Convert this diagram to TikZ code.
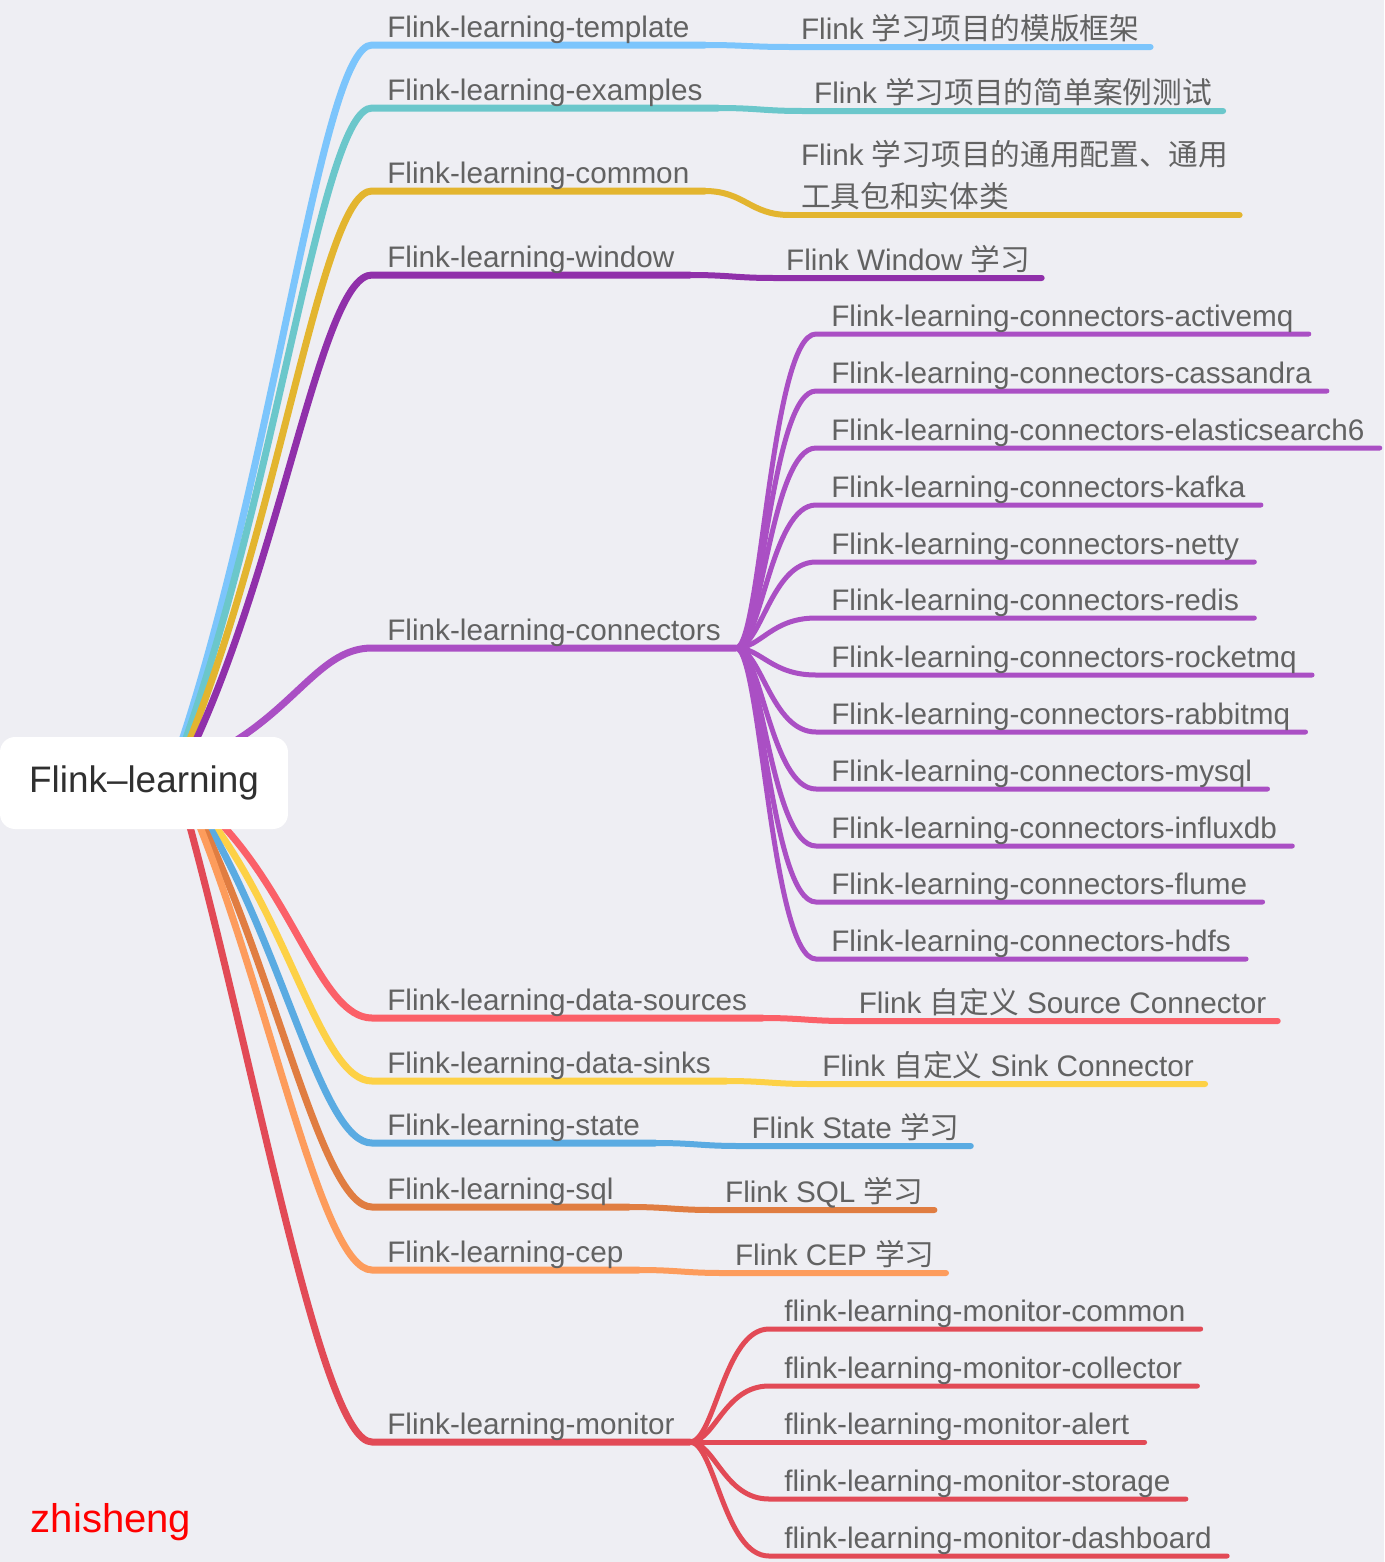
\documentclass[tikz,border=0pt]{standalone}
\usepackage{fontspec}
\setmainfont{Liberation Sans}
\newfontfamily\cjk{Noto Sans CJK SC}
\usepackage{xcolor}
\usepackage{tikz}
\usetikzlibrary{positioning,backgrounds}

\definecolor{bgcol}{HTML}{EEEEF3}
\definecolor{txtgray}{HTML}{626262}
\definecolor{rootgray}{HTML}{303030}
\definecolor{cTpl}{HTML}{7CC5FC}
\definecolor{cEx}{HTML}{6BC7CB}
\definecolor{cCom}{HTML}{E3B52F}
\definecolor{cWin}{HTML}{9030AA}
\definecolor{cCon}{HTML}{AA4FC4}
\definecolor{cSrc}{HTML}{FB6068}
\definecolor{cSnk}{HTML}{FDD146}
\definecolor{cSt}{HTML}{5AABE2}
\definecolor{cSql}{HTML}{E07D41}
\definecolor{cCep}{HTML}{FD9C5C}
\definecolor{cMon}{HTML}{E24A56}

\tikzset{
  rootbox/.style={rectangle, rounded corners=0.3cm, fill=white, minimum width=5.76cm, minimum height=1.84cm, text=rootgray, font=\fontsize{21pt}{25pt}\selectfont},
  topic/.style={anchor=south west, inner xsep=0.3cm, inner ysep=0pt, text depth=0.14cm, text=txtgray, font=\fontsize{16.9pt}{23.9pt}\selectfont},
  leaf/.style={topic, inner xsep=0.22cm, align=left},
  branch/.style={line width=0.14cm, line cap=round},
  leafline/.style={line width=0.12cm, line cap=round},
  twig/.style={line width=0.1cm, line cap=round}
}

\begin{document}
\begin{tikzpicture}[x=0.02cm, y=-0.02cm]
    \useasboundingbox (0,0) rectangle (1384,1562);
    % 中心
    \node [rootbox] (root) at (144,783) {Flink–learning};
    \node [font=\fontsize{22.8pt}{26pt}\selectfont, text=red] (sign) at (111,1522) {zhisheng};

    % 第一階層
    \node [topic] (tpl) at (372,45) {Flink-learning-template};
    \node [topic] (ex) at (372,108) {Flink-learning-examples};
    \node [topic] (com) at (372,191) {Flink-learning-common};
    \node [topic] (win) at (372,275) {Flink-learning-window};
    \node [topic] (con) at (372,648) {Flink-learning-connectors};
    \node [topic] (src) at (372,1018) {Flink-learning-data-sources};
    \node [topic] (snk) at (372,1081) {Flink-learning-data-sinks};
    \node [topic] (st) at (372,1143) {Flink-learning-state};
    \node [topic] (sql) at (372,1207) {Flink-learning-sql};
    \node [topic] (cep) at (372,1270) {Flink-learning-cep};
    \node [topic] (mon) at (372,1442) {Flink-learning-monitor};

    % 説明
    \node [right=1.7cm of tpl.south east, leaf, yshift=-0.04cm] (tplLeaf) {Flink {\cjk 学习项目的模版框架}};
    \node [right=1.7cm of ex.south east, leaf, yshift=-0.06cm] (exLeaf) {Flink {\cjk 学习项目的简单案例测试}};
    \node [right=1.7cm of com.south east, leaf, yshift=-0.48cm] (comLeaf) {Flink {\cjk 学习项目的通用配置、通用}\\{\cjk 工具包和实体类}};
    \node [right=1.7cm of win.south east, leaf, yshift=-0.06cm] (winLeaf) {Flink Window {\cjk 学习}};
    \node [right=1.7cm of src.south east, leaf, yshift=-0.06cm] (srcLeaf) {Flink {\cjk 自定义} Source Connector};
    \node [right=1.7cm of snk.south east, leaf, yshift=-0.06cm] (snkLeaf) {Flink {\cjk 自定义} Sink Connector};
    \node [right=1.7cm of st.south east, leaf, yshift=-0.06cm] (stLeaf) {Flink State {\cjk 学习}};
    \node [right=1.7cm of sql.south east, leaf, yshift=-0.06cm] (sqlLeaf) {Flink SQL {\cjk 学习}};
    \node [right=1.7cm of cep.south east, leaf, yshift=-0.06cm] (cepLeaf) {Flink CEP {\cjk 学习}};

    % connectors
    \node [topic] (conAmq) at (816,334) {Flink-learning-connectors-activemq};
    \node [topic] (conCas) at (816,391) {Flink-learning-connectors-cassandra};
    \node [topic] (conEs) at (816,448) {Flink-learning-connectors-elasticsearch6};
    \node [topic] (conKfk) at (816,505) {Flink-learning-connectors-kafka};
    \node [topic] (conNet) at (816,562) {Flink-learning-connectors-netty};
    \node [topic] (conRds) at (816,618) {Flink-learning-connectors-redis};
    \node [topic] (conRkt) at (816,675) {Flink-learning-connectors-rocketmq};
    \node [topic] (conRmq) at (816,732) {Flink-learning-connectors-rabbitmq};
    \node [topic] (conSql) at (816,789) {Flink-learning-connectors-mysql};
    \node [topic] (conIfx) at (816,846) {Flink-learning-connectors-influxdb};
    \node [topic] (conFlm) at (816,902) {Flink-learning-connectors-flume};
    \node [topic] (conHdf) at (816,959) {Flink-learning-connectors-hdfs};

    % monitor
    \node [topic] (monCom) at (769,1329) {flink-learning-monitor-common};
    \node [topic] (monCol) at (769,1386) {flink-learning-monitor-collector};
    \node [topic] (monAlt) at (769,1442) {flink-learning-monitor-alert};
    \node [topic] (monSto) at (769,1499) {flink-learning-monitor-storage};
    \node [topic] (monDsh) at (769,1556) {flink-learning-monitor-dashboard};

    \begin{scope}[on background layer]
    \fill [bgcol] (0,0) rectangle (1384,1562);
    % 枝
    \draw [branch, cTpl] (root.north) ++(36,10) .. controls +(96,-290) and +(-50,0) .. (tpl.south west) -- (tpl.south east);
    \draw [branch, cEx] (root.north) ++(39,10) .. controls +(95,-263) and +(-50,0) .. (ex.south west) -- (ex.south east);
    \draw [branch, cCom] (root.north) ++(43,10) .. controls +(93,-228) and +(-50,0) .. (com.south west) -- (com.south east);
    \draw [branch, cWin] (root.north) ++(49,10) .. controls +(90,-193) and +(-50,0) .. (win.south west) -- (win.south east);
    \draw [branch, cCon] (root.north) ++(82,10) .. controls +(72,-42) and +(-50,0) .. (con.south west) -- (con.south east);
    \draw [branch, cSrc] (root.south) ++(73,-10) .. controls +(78,80) and +(-50,0) .. (src.south west) -- (src.south east);
    \draw [branch, cSnk] (root.south) ++(66,-10) .. controls +(81,107) and +(-50,0) .. (snk.south west) -- (snk.south east);
    \draw [branch, cSt] (root.south) ++(61,-10) .. controls +(80,133) and +(-50,0) .. (st.south west) -- (st.south east);
    \draw [branch, cSql] (root.south) ++(56,-10) .. controls +(78,160) and +(-50,0) .. (sql.south west) -- (sql.south east);
    \draw [branch, cCep] (root.south) ++(53,-10) .. controls +(75,186) and +(-50,0) .. (cep.south west) -- (cep.south east);
    \draw [branch, cMon] (root.south) ++(44,-10) .. controls +(70,258) and +(-50,0) .. (mon.south west) -- (mon.south east);

    % 説明への線
    \draw [leafline, cTpl] (tpl.south east) .. controls +(40,0) and +(-40,0) .. (tplLeaf.south west) -- (tplLeaf.south east);
    \draw [leafline, cEx] (ex.south east) .. controls +(40,0) and +(-40,0) .. (exLeaf.south west) -- (exLeaf.south east);
    \draw [leafline, cCom] (com.south east) .. controls +(40,0) and +(-40,0) .. (comLeaf.south west) -- (comLeaf.south east);
    \draw [leafline, cWin] (win.south east) .. controls +(40,0) and +(-40,0) .. (winLeaf.south west) -- (winLeaf.south east);
    \draw [leafline, cSrc] (src.south east) .. controls +(40,0) and +(-40,0) .. (srcLeaf.south west) -- (srcLeaf.south east);
    \draw [leafline, cSnk] (snk.south east) .. controls +(40,0) and +(-40,0) .. (snkLeaf.south west) -- (snkLeaf.south east);
    \draw [leafline, cSt] (st.south east) .. controls +(40,0) and +(-40,0) .. (stLeaf.south west) -- (stLeaf.south east);
    \draw [leafline, cSql] (sql.south east) .. controls +(40,0) and +(-40,0) .. (sqlLeaf.south west) -- (sqlLeaf.south east);
    \draw [leafline, cCep] (cep.south east) .. controls +(40,0) and +(-40,0) .. (cepLeaf.south west) -- (cepLeaf.south east);

    % connectors の枝
    \draw [twig, cCon] (con.south east) .. controls +(25,0) and +(-45,0) .. (conAmq.south west) -- (conAmq.south east);
    \draw [twig, cCon] (con.south east) .. controls +(25,0) and +(-45,0) .. (conCas.south west) -- (conCas.south east);
    \draw [twig, cCon] (con.south east) .. controls +(25,0) and +(-45,0) .. (conEs.south west) -- (conEs.south east);
    \draw [twig, cCon] (con.south east) .. controls +(25,0) and +(-45,0) .. (conKfk.south west) -- (conKfk.south east);
    \draw [twig, cCon] (con.south east) .. controls +(25,0) and +(-45,0) .. (conNet.south west) -- (conNet.south east);
    \draw [twig, cCon] (con.south east) .. controls +(25,0) and +(-45,0) .. (conRds.south west) -- (conRds.south east);
    \draw [twig, cCon] (con.south east) .. controls +(25,0) and +(-45,0) .. (conRkt.south west) -- (conRkt.south east);
    \draw [twig, cCon] (con.south east) .. controls +(25,0) and +(-45,0) .. (conRmq.south west) -- (conRmq.south east);
    \draw [twig, cCon] (con.south east) .. controls +(25,0) and +(-45,0) .. (conSql.south west) -- (conSql.south east);
    \draw [twig, cCon] (con.south east) .. controls +(25,0) and +(-45,0) .. (conIfx.south west) -- (conIfx.south east);
    \draw [twig, cCon] (con.south east) .. controls +(25,0) and +(-45,0) .. (conFlm.south west) -- (conFlm.south east);
    \draw [twig, cCon] (con.south east) .. controls +(25,0) and +(-45,0) .. (conHdf.south west) -- (conHdf.south east);

    % monitor の枝
    \draw [twig, cMon] (mon.south east) .. controls +(25,0) and +(-45,0) .. (monCom.south west) -- (monCom.south east);
    \draw [twig, cMon] (mon.south east) .. controls +(25,0) and +(-45,0) .. (monCol.south west) -- (monCol.south east);
    \draw [twig, cMon] (mon.south east) .. controls +(25,0) and +(-45,0) .. (monAlt.south west) -- (monAlt.south east);
    \draw [twig, cMon] (mon.south east) .. controls +(25,0) and +(-45,0) .. (monSto.south west) -- (monSto.south east);
    \draw [twig, cMon] (mon.south east) .. controls +(25,0) and +(-45,0) .. (monDsh.south west) -- (monDsh.south east);
    \end{scope}
\end{tikzpicture}
\end{document}
